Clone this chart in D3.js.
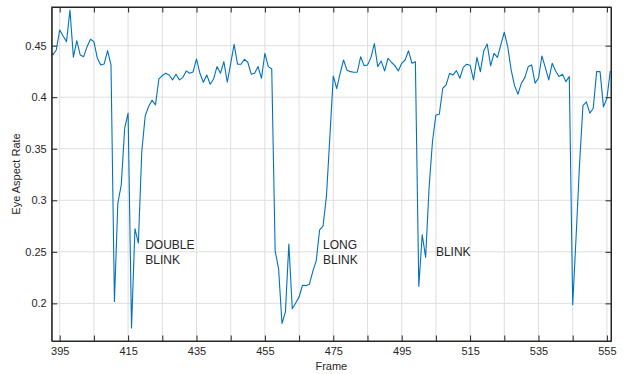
<!DOCTYPE html>
<html>
<head>
<meta charset="utf-8">
<style>
  body { margin: 0; background: #fff; }
  text { font-family: "Liberation Sans", Arial, sans-serif; fill: #262626; }
</style>
</head>
<body>
<svg id="chart" width="627" height="374"></svg>
<script src="https://cdn.jsdelivr.net/npm/d3@7/dist/d3.min.js"></script>
<script>
// eye aspect rate per frame, frames 392..556
var firstFrame = 392;
var ear = [
  0.4465, 0.4410, 0.4458, 0.4652, 0.4594, 0.4539, 0.4846, 0.4388, 0.4548, 0.4410,
  0.4393, 0.4490, 0.4562, 0.4539, 0.4378, 0.4313, 0.4323, 0.4452, 0.4313, 0.2019,
  0.2973, 0.3150, 0.3700, 0.3845, 0.1762, 0.2724, 0.2585, 0.3473, 0.3819, 0.3910,
  0.3970, 0.3925, 0.4177, 0.4210, 0.4232, 0.4215, 0.4168, 0.4223, 0.4168, 0.4190,
  0.4255, 0.4232, 0.4245, 0.4371, 0.4232, 0.4145, 0.4216, 0.4126, 0.4177, 0.4297,
  0.4232, 0.4345, 0.4145, 0.4329, 0.4513, 0.4320, 0.4320, 0.4368, 0.4339, 0.4223,
  0.4232, 0.4297, 0.4184, 0.4426, 0.4297, 0.4274, 0.2510, 0.2335, 0.1806, 0.1918,
  0.2576, 0.1948, 0.2004, 0.2063, 0.2176, 0.2172, 0.2185, 0.2310, 0.2412, 0.2714,
  0.2750, 0.3040, 0.3620, 0.4206, 0.4083, 0.4230, 0.4361, 0.4262, 0.4248, 0.4242,
  0.4242, 0.4393, 0.4306, 0.4313, 0.4384, 0.4520, 0.4297, 0.4352, 0.4255, 0.4378,
  0.4339, 0.4306, 0.4255, 0.4329, 0.4361, 0.4450, 0.4329, 0.4345, 0.2165, 0.2666,
  0.2446, 0.3118, 0.3570, 0.3828, 0.3835, 0.4087, 0.4119, 0.4232, 0.4216, 0.4258,
  0.4184, 0.4290, 0.4320, 0.4310, 0.4168, 0.4386, 0.4248, 0.4450, 0.4515, 0.4305,
  0.4426, 0.4386, 0.4510, 0.4630, 0.4490, 0.4265, 0.4112, 0.4029, 0.4136, 0.4190,
  0.4297, 0.4313, 0.4136, 0.4184, 0.4400, 0.4287, 0.4168, 0.4329, 0.4255, 0.4200,
  0.4223, 0.4151, 0.4200, 0.1987, 0.2650, 0.3350, 0.3918, 0.3955, 0.3845, 0.3890,
  0.4248, 0.4248, 0.3906, 0.3990, 0.4255
];
var xTicks = [395, 405, 415, 425, 435, 445, 455, 465, 475, 485, 495, 505, 515, 525, 535, 545, 555];
var xLabels = [395, 415, 435, 455, 475, 495, 515, 535, 555];
var yTicks = [0.2, 0.25, 0.3, 0.35, 0.4, 0.45];
var noteText = [["DOUBLE", "BLINK"], ["LONG", "BLINK"], ["BLINK"]];
var noteFrame = [420, 472, 505];
var noteValue = [0.25, 0.25, 0.25];

var W = 627, H = 374;
var m = {top: 7, right: 16, bottom: 33, left: 51.7};
var w = W - m.left - m.right, h = H - m.top - m.bottom;

var svg = d3.select("#chart");
var g = svg.append("g").attr("transform", "translate(" + m.left + "," + m.top + ")");

var x = d3.scaleLinear().domain([392.66, 556.2]).range([0, w]);
var y = d3.scaleLinear().domain([0.1635, 0.4875]).range([h, 0]);

var data = ear.map(function(v, i) { return {f: firstFrame + i, v: v}; });

// grid
g.selectAll(".gx").data(xTicks).enter().append("line")
  .attr("x1", x).attr("x2", x).attr("y1", 0).attr("y2", h)
  .attr("stroke", "#dfdfdf").attr("stroke-width", 1);
g.selectAll(".gy").data(yTicks).enter().append("line")
  .attr("y1", y).attr("y2", y).attr("x1", 0).attr("x2", w)
  .attr("stroke", "#dfdfdf").attr("stroke-width", 1);

svg.append("clipPath").attr("id", "clip").append("rect").attr("width", w).attr("height", h);

var line = d3.line().x(function(d) { return x(d.f); }).y(function(d) { return y(d.v); });
g.append("path").datum(data)
  .attr("clip-path", "url(#clip)")
  .attr("fill", "none").attr("stroke", "#0072BD").attr("stroke-width", 1.1)
  .attr("stroke-linejoin", "round")
  .attr("d", line);

// axes, ticks inward on all sides
var tk = 5.5;
function fmtX(d) { return xLabels.indexOf(d) >= 0 ? d : ""; }
var xb = g.append("g").attr("transform", "translate(0," + h + ")")
  .call(d3.axisBottom(x).tickValues(xTicks).tickSizeInner(-tk).tickSizeOuter(0).tickPadding(6).tickFormat(fmtX));
var xt = g.append("g")
  .call(d3.axisTop(x).tickValues(xTicks).tickSizeInner(-tk).tickSizeOuter(0).tickFormat(""));
var yl = g.append("g")
  .call(d3.axisLeft(y).tickValues(yTicks).tickSizeInner(-tk).tickSizeOuter(0).tickPadding(5).tickFormat(d3.format("")));
var yr = g.append("g").attr("transform", "translate(" + w + ",0)")
  .call(d3.axisRight(y).tickValues(yTicks).tickSizeInner(-tk).tickSizeOuter(0).tickFormat(""));

[xb, xt, yl, yr].forEach(function(a) {
  a.select(".domain").attr("stroke", "#262626");
  a.selectAll(".tick line").attr("stroke", "#262626");
  a.selectAll("text").attr("fill", "#262626").style("font-size", "11px")
    .style("font-family", "'Liberation Sans', Arial, sans-serif");
});
g.append("rect").attr("width", w).attr("height", h)
  .attr("fill", "none").attr("stroke", "#262626").attr("stroke-width", 1);

// labels
g.append("text").attr("x", w / 2).attr("y", h + 28.5).attr("text-anchor", "middle")
  .style("font-size", "11px").text("Frame");
g.append("text").attr("transform", "translate(" + (16 - m.left) + "," + (h / 2) + ") rotate(-90)")
  .attr("text-anchor", "middle").attr("dy", "0.35em")
  .style("font-size", "11px").text("Eye Aspect Rate");

// annotations
noteText.forEach(function(lines, i) {
  var t = g.append("text").attr("x", x(noteFrame[i])).attr("y", y(noteValue[i]))
    .style("font-size", "12px");
  var off = -(lines.length - 1) * 15 / 2;
  lines.forEach(function(s, j) {
    t.append("tspan").attr("x", x(noteFrame[i]))
      .attr("y", y(noteValue[i]) + off + j * 15).attr("dy", "0.35em").text(s);
  });
});
</script>
</body>
</html>
